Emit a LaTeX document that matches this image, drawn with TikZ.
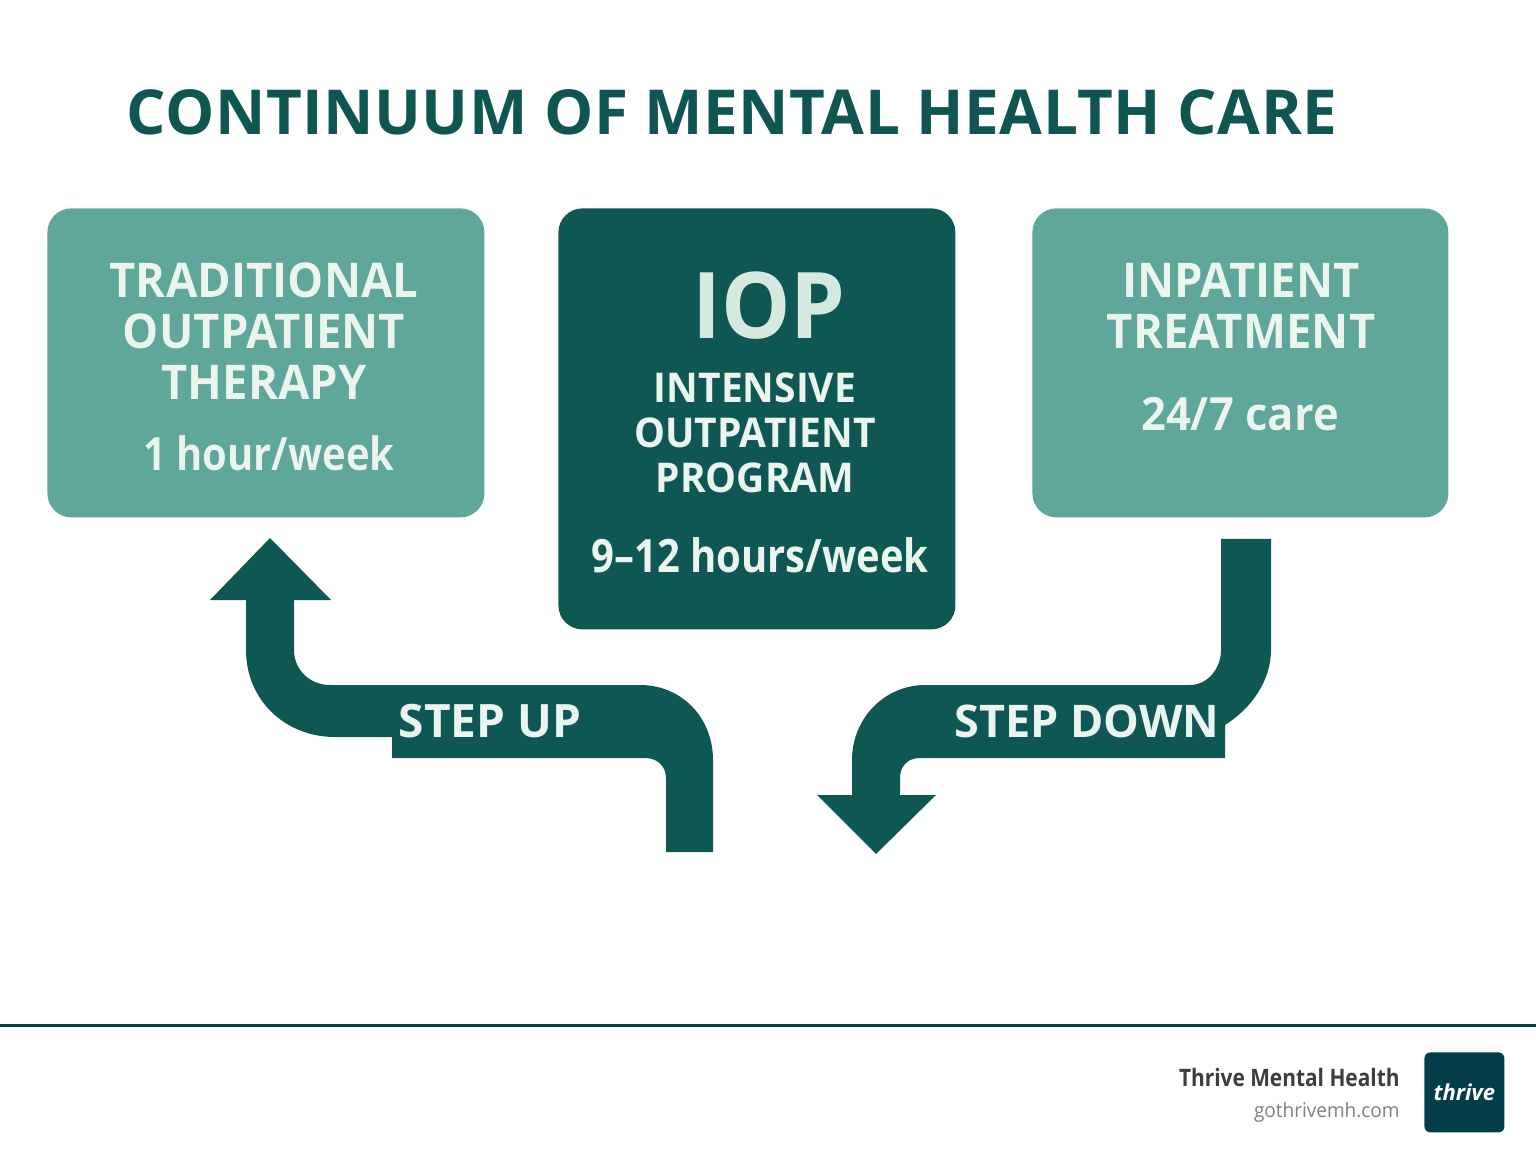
\documentclass[tikz,border=0pt]{standalone}
\usepackage{fontspec}
\setmainfont{Open Sans}
\newfontfamily\capsface[FakeStretch=0.95]{Open Sans}
\newfontfamily\hoursface[FakeStretch=0.87]{Open Sans}
\usepackage[outline]{contour}
\contourlength{0.25pt}
\definecolor{tealdark}{HTML}{0F5753}
\definecolor{teallight}{HTML}{5FA69B}
\definecolor{titleteal}{HTML}{0F5653}
\definecolor{logoteal}{HTML}{023D48}
\definecolor{labelpale}{HTML}{EAF5EE}
\newcommand{\paletext}[1]{\contour{tealdark!70!teallight}{#1}}
\tikzset{
  carebox/.style={rounded corners=12pt, inner sep=0pt, anchor=north west},
  carelabel/.style={text=labelpale, align=center, inner sep=0pt},
  bigstep/.style={fill=tealdark}
}
\begin{document}
\begin{tikzpicture}[x=0.5pt, y=-0.5pt]
    \useasboundingbox (0,0) rectangle (1536,1154);
    \node[text=titleteal, font=\fontsize{31}{36}\bfseries\addfontfeatures{LetterSpace=0.8}, inner sep=0pt] (title) at (732,112) {CONTINUUM OF MENTAL HEALTH CARE};

    % the three boxes
    \node[carebox, fill=teallight, minimum width=218.5pt, minimum height=154.5pt] (outpatient) at (47,208) {};
    \node[carebox, fill=tealdark, minimum width=198.5pt, minimum height=210.5pt] (iop) at (558,208) {};
    \node[carebox, fill=teallight, minimum width=208pt, minimum height=154.5pt] (inpatient) at (1032,208) {};

    \node[carelabel, font=\fontsize{24}{25.5}\capsface\bfseries] (outname) at (264,331) {\paletext{TRADITIONAL}\\\paletext{OUTPATIENT}\\\paletext{THERAPY}};
    \node[carelabel, font=\fontsize{23}{26}\hoursface\bfseries] (outhours) at (269,453) {\paletext{1 hour/week}};

    \node[carelabel, text=labelpale!85!teallight, font=\fontsize{46}{50}\capsface\bfseries] (ioptitle) at (769,306) {IOP};
    \node[carelabel, font=\fontsize{20.5}{22.5}\capsface\bfseries] (iopname) at (755,433) {INTENSIVE\\OUTPATIENT\\PROGRAM};
    \node[carelabel, font=\fontsize{23}{26}\hoursface\bfseries] (iophours) at (760,555) {9–12 hours/week};

    \node[carelabel, font=\fontsize{24}{25.5}\capsface\bfseries] (inname) at (1241,306) {\paletext{INPATIENT}\\\paletext{TREATMENT}};
    \node[carelabel, font=\fontsize{23}{26}\capsface\bfseries] (inhours) at (1240,414) {\paletext{24/7 care}};

    % step up
    \fill[bigstep] (270,538) -- (331,600) -- (294,600) -- (294,650)
        .. controls (294,670) and (310,685) .. (330,685) -- (640,685)
        .. controls (682,685) and (713,718) .. (713,760) -- (713,852) -- (666,852) -- (666,778)
        .. controls (666,766) and (657,758) .. (645,758) -- (392,758) -- (392,737) -- (335,737)
        .. controls (285,737) and (246,700) .. (246,650) -- (246,600) -- (210,600) -- cycle;
    \node[carelabel, font=\fontsize{23}{26}\bfseries] (stepup) at (490,721) {STEP UP};

    % step down
    \fill[bigstep] (1221,539) -- (1271,539) -- (1271,650)
        .. controls (1271,680) and (1252,708) .. (1225,725) -- (1225,758) -- (920,758)
        .. controls (908,758) and (900,766) .. (900,778) -- (900,795) -- (936,795) -- (876,854)
        -- (817,795) -- (852,795) -- (852,760)
        .. controls (852,718) and (885,685) .. (925,685) -- (1190,685)
        .. controls (1208,685) and (1221,668) .. (1221,650) -- cycle;
    \node[carelabel, font=\fontsize{22.5}{26}\bfseries] (stepdown) at (1087,721) {STEP DOWN};

    % footer
    \draw[logoteal, line width=1.5pt] (0,1025) -- (1536,1025);
    \node[carebox, rounded corners=3pt, fill=logoteal, minimum width=40pt, minimum height=40pt] (logo) at (1424,1052) {};
    \node[text=white, font=\fontsize{11}{13}\bfseries\itshape, inner sep=0pt] (logoname) at (logo.center) {thrive};
    \node[anchor=east, text=black!76, font=\fontsize{12}{14}\hoursface\bfseries, inner sep=0pt] (brand) at (1400,1077) {Thrive Mental Health};
    \node[anchor=east, text=black!50, font=\fontsize{10}{13}\capsface, inner sep=0pt] (site) at (1400,1112) {gothrivemh.com};
\end{tikzpicture}
\end{document}
